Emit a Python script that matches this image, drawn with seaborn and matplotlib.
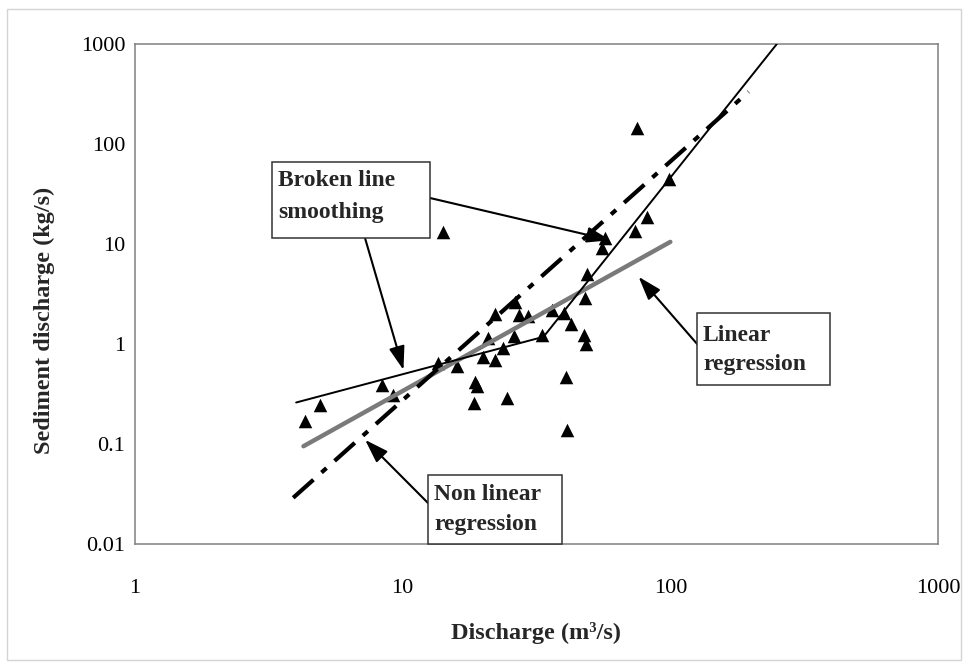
import numpy as np
import pandas as pd
import matplotlib
matplotlib.use('Agg')
import matplotlib.pyplot as plt
from matplotlib.patches import Rectangle
import seaborn as sns

# --- data ---
discharge = [4.3, 4.9, 8.4, 9.2, 14.2, 13.6, 16.0, 18.7, 18.9, 18.5, 24.6, 20.0,
             22.2, 20.9, 23.8, 26.1, 22.2, 26.3, 27.3, 29.5, 33.1, 36.1, 39.9, 42.5,
             47.7, 48.4, 40.9, 41.1, 48.1, 48.8, 55.6, 57.1, 74.0, 81.8, 98.5, 75.1]
sediment = [0.17, 0.245, 0.39, 0.31, 13.2, 0.64, 0.60, 0.42, 0.376, 0.255, 0.286, 0.746,
            0.692, 1.14, 0.905, 1.20, 1.98, 2.65, 1.95, 1.91, 1.23, 2.19, 2.06, 1.57,
            1.23, 1.0, 0.471, 0.138, 2.86, 5.0, 9.06, 11.4, 13.6, 18.8, 44.2, 143.6]

broken_x = [4.0, 33.6, 250.0]
broken_y = [0.26, 1.18, 1000.0]
linear_x = [4.26, 100.0]
linear_y = [0.095, 10.5]
nonlinear_x = [3.9, 196.0]
nonlinear_y = [0.029, 333.0]

x_ticks = [1, 10, 100, 1000]
x_tick_labels = ['1', '10', '100', '1000']
y_ticks = [0.01, 0.1, 1, 10, 100, 1000]
y_tick_labels = ['0.01', '0.1', '1', '10', '100', '1000']

W, H = 968, 662


def fx(px):
    return px / W


def fy(py):
    return 1 - py / H


sns.set_theme(style='white')
plt.rcParams['font.family'] = ['Liberation Serif', 'DejaVu Serif']

fig = plt.figure(figsize=(W / 100, H / 100), dpi=100)
ax = fig.add_axes([fx(135), fy(544), fx(938) - fx(135), fy(44) - fy(544)])

pts = pd.DataFrame({'Q': discharge, 'Qs': sediment})
sns.scatterplot(data=pts, x='Q', y='Qs', marker='^', color='black', s=95,
                linewidth=0, zorder=2, ax=ax)

sns.lineplot(x=broken_x, y=broken_y, color='black', linewidth=1.4, sort=False,
             estimator=None, zorder=4, ax=ax)
sns.lineplot(x=linear_x, y=linear_y, color='#7a7a7a', linewidth=3.2, sort=False,
             estimator=None, zorder=3, ax=ax)
sns.lineplot(x=nonlinear_x, y=nonlinear_y, color='black', linewidth=3.0, sort=False,
             estimator=None, zorder=3, linestyle=(0, (6.5, 2.6, 1.6, 2.6)), ax=ax)

ax.set_xscale('log')
ax.set_yscale('log')
ax.set_xlim(1, 1000)
ax.set_ylim(0.01, 1000)
ax.minorticks_off()
ax.set_xticks(x_ticks)
ax.set_xticklabels(x_tick_labels)
ax.set_yticks(y_ticks)
ax.set_yticklabels(y_tick_labels)
ax.tick_params(axis='both', which='major', labelsize=16, colors='#909090',
               labelcolor='black', length=5, width=1, direction='out')
ax.tick_params(axis='x', pad=20)
ax.tick_params(axis='y', pad=2)
for s in ax.spines.values():
    s.set_color('#808080')
    s.set_linewidth(1.1)
ax.grid(False)

ax.set_xlabel('Discharge (m³/s)', fontsize=17.5, fontweight='bold')
ax.set_ylabel('Sediment discharge (kg/s)', fontsize=17.5, fontweight='bold')
ax.xaxis.label.set_va('center')
ax.yaxis.label.set_va('center')
ax.xaxis.set_label_coords((536 - 135) / 803, (544 - 633) / 500)
ax.yaxis.set_label_coords((44 - 135) / 803, (544 - 320) / 500)

# chart-area border
fig.patches.append(Rectangle((fx(7), fy(660)), fx(961) - fx(7), fy(9) - fy(660),
                             transform=fig.transFigure, fill=False,
                             edgecolor='#d4d4d4', linewidth=1))

# annotation boxes: (left, top, right, bottom), text lines with baselines
boxes = [
    ((272, 162, 430, 238), ['Broken line', 'smoothing'], 278, [186, 218]),
    ((697, 313, 830, 385), ['Linear', 'regression'], 703, [341, 370]),
    ((428, 475, 562, 544), ['Non linear', 'regression'], 434, [500, 530]),
]
for (l, t, r, b), lines, tx, bases in boxes:
    fig.patches.append(Rectangle((fx(l), fy(b)), fx(r) - fx(l), fy(t) - fy(b),
                                 transform=fig.transFigure, facecolor='white',
                                 edgecolor='#333333', linewidth=1.1, zorder=5))
    for txt, bl in zip(lines, bases):
        fig.text(fx(tx), fy(bl), txt, fontsize=17, fontweight='bold',
                 ha='left', va='baseline', zorder=6)

# arrows: tip in data coords, tail at box edge (figure pixels)
arrows = [
    ((59.7, 10.9), (430, 198)),
    ((10.07, 0.55), (365, 238)),
    ((76.1, 4.7), (698, 345)),
    ((7.24, 0.11), (428, 503)),
]
for tip, (tx, ty) in arrows:
    ax.annotate('', xy=tip, xycoords='data',
                xytext=(fx(tx), fy(ty)), textcoords='figure fraction',
                arrowprops=dict(arrowstyle='-|>,head_length=0.9,head_width=0.3',
                                color='black', lw=1.5, mutation_scale=16,
                                shrinkA=0, shrinkB=0),
                zorder=6, annotation_clip=False)

fig.savefig('out.png', dpi=100, facecolor='white')
